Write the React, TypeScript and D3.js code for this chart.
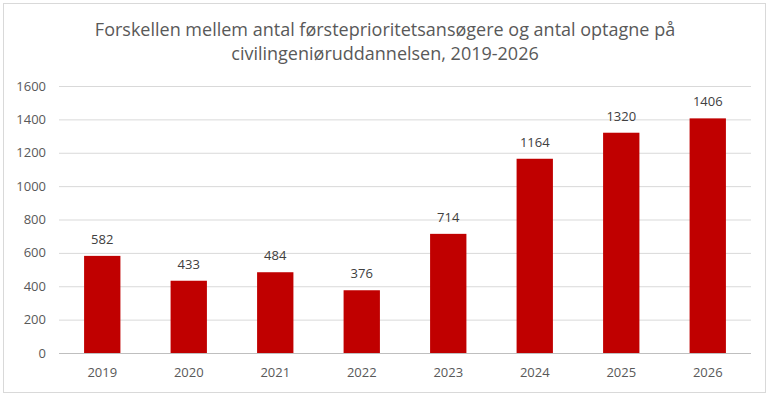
import { useEffect, useRef } from 'react';
import * as d3 from 'd3';

const years = ['2019', '2020', '2021', '2022', '2023', '2024', '2025', '2026'];
const values = [582, 433, 484, 376, 714, 1164, 1320, 1406];
const yTicks = [0, 200, 400, 600, 800, 1000, 1200, 1400, 1600];
const titleLines = [
  'Forskellen mellem antal førsteprioritetsansøgere og antal optagne på',
  'civilingeniøruddannelsen, 2019-2026',
];

export default function App() {
  const ref = useRef<SVGSVGElement>(null);

  useEffect(() => {
    if (!ref.current) return;
    const svg = d3.select(ref.current);
    svg.selectAll('*').remove();
    const width = 771;
    const height = 400;
    const margin = { top: 86, right: 20, bottom: 47, left: 59 };
    const innerW = width - margin.left - margin.right;
    const innerH = height - margin.top - margin.bottom;
    const font = "'Open Sans', 'Liberation Sans', sans-serif";

    svg.append('rect')
      .attr('x', 3.5).attr('y', 3.5).attr('width', 762).attr('height', 389)
      .attr('fill', '#fff').attr('stroke', '#d9d9d9');

    svg.append('g').selectAll('text').data(titleLines).enter().append('text')
      .attr('x', 385).attr('y', (_, i) => 36 + i * 24)
      .attr('text-anchor', 'middle').attr('font-family', font)
      .attr('font-size', 18).attr('fill', '#595959').text((d) => d);

    const g = svg.append('g').attr('transform', `translate(${margin.left},${margin.top})`);
    const x = d3.scaleBand<string>().domain(years).range([0, innerW]).paddingInner(0.58).paddingOuter(0.29);
    const y = d3.scaleLinear().domain([0, 1600]).range([innerH, 0]);

    g.selectAll('line.grid').data(yTicks).enter().append('line')
      .attr('x1', 0).attr('x2', innerW)
      .attr('y1', (d) => y(d) + 0.5).attr('y2', (d) => y(d) + 0.5)
      .attr('stroke', (d) => (d === 0 ? '#bfbfbf' : '#d9d9d9'));

    g.selectAll('text.yt').data(yTicks).enter().append('text')
      .attr('x', -13).attr('y', (d) => y(d)).attr('dy', '0.35em')
      .attr('text-anchor', 'end').attr('font-family', font).attr('font-size', 13)
      .attr('fill', '#595959').text((d) => d);

    g.selectAll('rect.bar').data(values).enter().append('rect')
      .attr('x', (_, i) => x(years[i])!).attr('width', x.bandwidth())
      .attr('y', (d) => y(d)).attr('height', (d) => innerH - y(d))
      .attr('fill', '#c00000');

    g.selectAll('text.val').data(values).enter().append('text')
      .attr('x', (_, i) => x(years[i])! + x.bandwidth() / 2).attr('y', (d) => y(d) - 12)
      .attr('text-anchor', 'middle').attr('font-family', font).attr('font-size', 13)
      .attr('fill', '#404040').text((d) => d);

    g.selectAll('text.xt').data(years).enter().append('text')
      .attr('x', (d) => x(d)! + x.bandwidth() / 2).attr('y', innerH + 24)
      .attr('text-anchor', 'middle').attr('font-family', font).attr('font-size', 13)
      .attr('fill', '#595959').text((d) => d);
  }, []);

  return (
    <div style={{ position: 'fixed', left: 0, top: 0 }}>
      <svg ref={ref} width={771} height={400} />
    </div>
  );
}
